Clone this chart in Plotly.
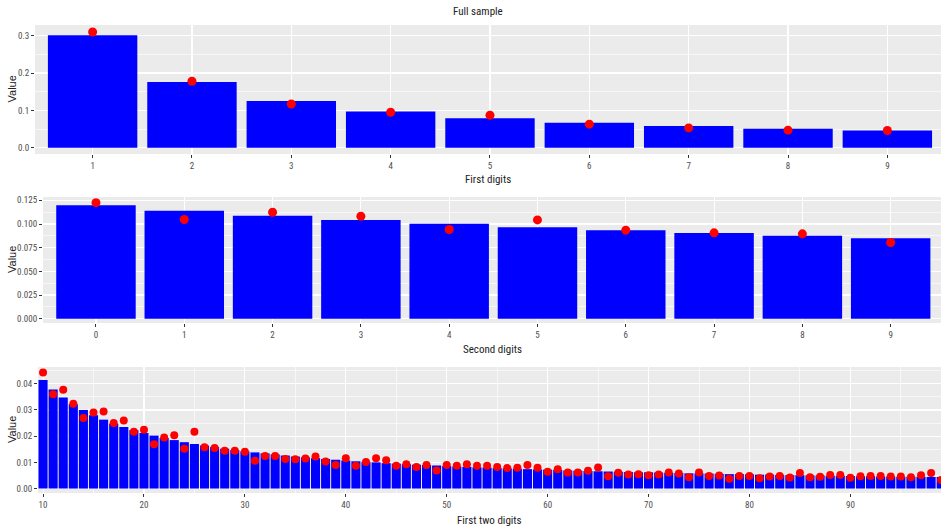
import plotly.graph_objects as go

W, H = 941, 528

# ---------------- data ----------------
first_digits = [1, 2, 3, 4, 5, 6, 7, 8, 9]
first_expected = [0.301, 0.176, 0.125, 0.097, 0.079, 0.067, 0.058, 0.051, 0.046]
first_observed = [0.310, 0.178, 0.117, 0.095, 0.087, 0.063, 0.053, 0.047, 0.046]

second_digits = [0, 1, 2, 3, 4, 5, 6, 7, 8, 9]
second_expected = [0.1197, 0.1139, 0.1088, 0.1043, 0.1003, 0.0967, 0.0934, 0.0904, 0.0876, 0.0850]
second_observed = [0.1225, 0.1047, 0.1124, 0.1082, 0.0942, 0.1043, 0.0935, 0.0907, 0.0896, 0.0805]

two_digits = list(range(10, 100))
two_expected = [
    0.0414, 0.0378, 0.0348, 0.0322, 0.0300, 0.0280, 0.0263, 0.0248, 0.0235, 0.0223,
    0.0212, 0.0202, 0.0193, 0.0185, 0.0177, 0.0170, 0.0164, 0.0158, 0.0152, 0.0147,
    0.0142, 0.0138, 0.0134, 0.0130, 0.0126, 0.0122, 0.0119, 0.0116, 0.0113, 0.0110,
    0.0107, 0.0104, 0.0102, 0.0100, 0.0097, 0.0095, 0.0093, 0.0091, 0.0090, 0.0088,
    0.0086, 0.0084, 0.0083, 0.0081, 0.0080, 0.0078, 0.0077, 0.0076, 0.0074, 0.0073,
    0.0072, 0.0071, 0.0069, 0.0068, 0.0067, 0.0066, 0.0065, 0.0064, 0.0063, 0.0062,
    0.0062, 0.0061, 0.0060, 0.0059, 0.0058, 0.0058, 0.0057, 0.0056, 0.0055, 0.0055,
    0.0054, 0.0053, 0.0053, 0.0052, 0.0051, 0.0051, 0.0050, 0.0050, 0.0049, 0.0049,
    0.0048, 0.0047, 0.0047, 0.0046, 0.0046, 0.0045, 0.0045, 0.0045, 0.0044, 0.0044,
]
two_observed = [
    0.0443, 0.0360, 0.0377, 0.0324, 0.0269, 0.0290, 0.0294, 0.0250, 0.0260, 0.0217,
    0.0224, 0.0169, 0.0195, 0.0203, 0.0152, 0.0217, 0.0158, 0.0155, 0.0144, 0.0144,
    0.0140, 0.0106, 0.0124, 0.0124, 0.0113, 0.0112, 0.0115, 0.0122, 0.0103, 0.0090,
    0.0116, 0.0087, 0.0101, 0.0116, 0.0108, 0.0087, 0.0093, 0.0082, 0.0090, 0.0069,
    0.0090, 0.0087, 0.0093, 0.0087, 0.0087, 0.0082, 0.0078, 0.0079, 0.0090, 0.0079,
    0.0064, 0.0074, 0.0061, 0.0061, 0.0068, 0.0080, 0.0047, 0.0060, 0.0054, 0.0055,
    0.0051, 0.0054, 0.0061, 0.0057, 0.0043, 0.0061, 0.0048, 0.0050, 0.0037, 0.0048,
    0.0048, 0.0039, 0.0046, 0.0048, 0.0042, 0.0059, 0.0043, 0.0045, 0.0052, 0.0052,
    0.0041, 0.0047, 0.0048, 0.0048, 0.0046, 0.0046, 0.0043, 0.0051, 0.0059, 0.0033,
]

title_text = "Full sample"
x_titles = ["First digits", "Second digits", "First two digits"]
y_title = "Value"

# ---------------- styling ----------------
FONT = "Liberation Sans Narrow, Roboto Condensed, DejaVu Sans Condensed, sans-serif"
TICK_FONT = dict(family=FONT, size=9, color="#4D4D4D")
TITLE_FONT = dict(family=FONT, size=11, color="#222222")
BG = "#EBEBEB"
BAR = "#0000FF"
DOT = "#FF0000"


def px_x(px):
    return px / W


def px_y(px):
    return 1 - px / H


fig = go.Figure()

panels = [
    dict(x=first_digits, e=first_expected, o=first_observed,
         xd=(35, 941), yd=(25, 154), xr=[0.42, 9.54], yr=[-0.0169, 0.3287],
         xt=first_digits, ydt=0.1, ymin=0.05, xmin=None, fmt=".1f", ms=9, xtitle_y=179),
    dict(x=second_digits, e=second_expected, o=second_observed,
         xd=(43, 941), yd=(197, 323), xr=[-0.6, 9.57], yr=[-0.0045, 0.1285],
         xt=second_digits, ydt=0.025, ymin=0.0125, xmin=None, fmt=".3f", ms=9, xtitle_y=349),
    dict(x=two_digits, e=two_expected, o=two_observed,
         xd=(38, 941), yd=(367, 493), xr=[9.5, 98.98], yr=[-0.0017, 0.0464],
         xt=[10, 20, 30, 40, 50, 60, 70, 80, 90], ydt=0.01, ymin=0.005, xmin=5, fmt=".2f", ms=8, xtitle_y=520),
]

layout = {}
for i, p in enumerate(panels):
    sfx = "" if i == 0 else str(i + 1)
    fig.add_trace(go.Bar(x=p["x"], y=p["e"], width=0.9, marker=dict(color=BAR, line=dict(width=0)),
                         xaxis="x" + sfx, yaxis="y" + sfx, showlegend=False))
    fig.add_trace(go.Scatter(x=p["x"], y=p["o"], mode="markers",
                             marker=dict(color=DOT, size=p["ms"], line=dict(width=0)),
                             xaxis="x" + sfx, yaxis="y" + sfx, showlegend=False))
    xa = dict(domain=[px_x(p["xd"][0]), px_x(p["xd"][1])], range=p["xr"], anchor="y" + sfx,
              tickmode="array", tickvals=p["xt"], ticktext=[str(v) for v in p["xt"]],
              showgrid=True, gridcolor="white", gridwidth=1.1, zeroline=False,
              ticks="outside", ticklen=3, tickcolor="#333333", tickwidth=1,
              tickfont=TICK_FONT, showline=False, fixedrange=True, automargin=False)
    if p["xmin"]:
        xa["minor"] = dict(showgrid=True, gridcolor="white", gridwidth=0.6, dtick=p["xmin"], tick0=5)
    ya = dict(domain=[px_y(p["yd"][1]), px_y(p["yd"][0])], range=p["yr"], anchor="x" + sfx,
              tick0=0, dtick=p["ydt"], tickformat=p["fmt"],
              showgrid=True, gridcolor="white", gridwidth=1.1, zeroline=False,
              minor=dict(showgrid=True, gridcolor="white", gridwidth=0.6, dtick=p["ymin"], tick0=0),
              ticks="outside", ticklen=3, tickcolor="#333333", tickwidth=1,
              tickfont=TICK_FONT, showline=False, fixedrange=True, automargin=False)
    layout["xaxis" + sfx] = xa
    layout["yaxis" + sfx] = ya

    # axis titles as annotations
    fig.add_annotation(text=x_titles[i], x=px_x((p["xd"][0] + p["xd"][1]) / 2), y=px_y(p["xtitle_y"]),
                       xref="paper", yref="paper", showarrow=False, font=TITLE_FONT,
                       xanchor="center", yanchor="middle")
    fig.add_annotation(text=y_title, x=px_x(12), y=px_y((p["yd"][0] + p["yd"][1]) / 2),
                       xref="paper", yref="paper", showarrow=False, textangle=-90,
                       font=dict(family="Liberation Sans, Arial, sans-serif", size=11, color="#222222"),
                       xanchor="center", yanchor="middle")

fig.update_layout(
    width=W, height=H,
    margin=dict(l=0, r=0, t=0, b=0, autoexpand=False),
    paper_bgcolor="white", plot_bgcolor=BG,
    barmode="overlay",
    hovermode=False,
    **layout,
)

fig.add_annotation(text=title_text, x=px_x(478), y=px_y(12), xref="paper", yref="paper",
                   showarrow=False, font=TITLE_FONT, xanchor="center", yanchor="middle")

fig.write_html("out.html",
               config={"displayModeBar": False, "staticPlot": True},
               post_script="document.body.style.margin='0px';document.body.style.overflow='hidden';")
